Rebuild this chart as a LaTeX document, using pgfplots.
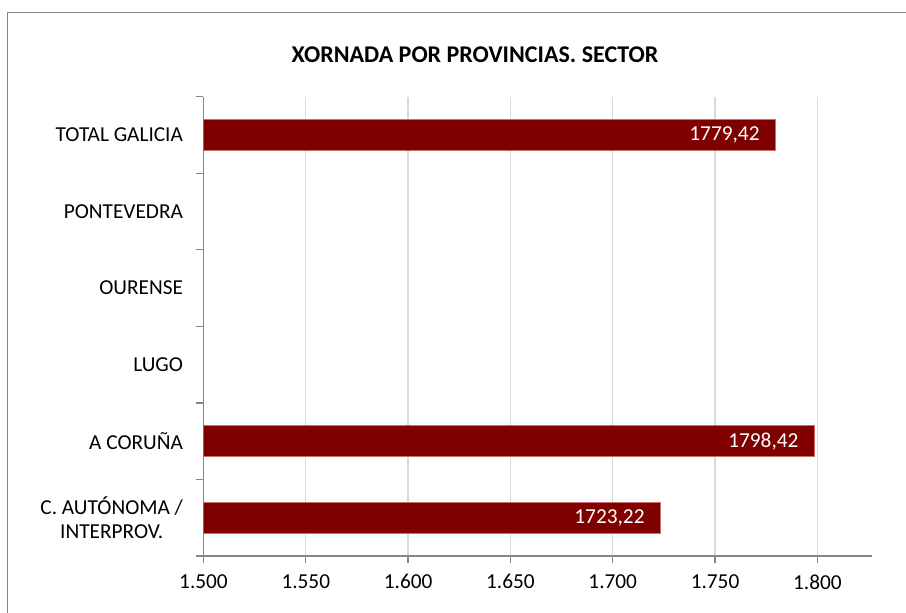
\documentclass[border=0pt]{standalone}
\usepackage{pgfplots}
\pgfplotsset{compat=1.18}
\usepackage{fontspec}
\setmainfont{Carlito}
\definecolor{barred}{RGB}{128,0,0}
\definecolor{baredge}{RGB}{205,110,110}
\definecolor{axgray}{RGB}{134,134,134}
\definecolor{gridgray}{RGB}{217,217,217}
\begin{document}
\begin{tikzpicture}[x=1pt,y=1pt]
\path[use as bounding box] (0,0) rectangle (906,613);
\draw[axgray, line width=1.5pt] (7.5,0) -- (7.5,600.3) -- (906,600.3);
\node[font=\fontsize{24}{28}\selectfont\bfseries] at (475,558) {XORNADA POR PROVINCIAS. SECTOR};
\begin{axis}[
  at={(203.5pt,57pt)}, anchor=south west,
  scale only axis, width=668.5pt, height=459.3pt,
  xmin=1500, xmax=1826.7,
  ymin=-0.5, ymax=5.5,
  axis x line*=bottom, axis y line*=left,
  axis line style={axgray, line width=1.3pt, -},
  xtick={1500,1550,1600,1650,1700,1750,1800},
  xticklabels={1.500,1.550,1.600,1.650,1.700,1.750,1.800},
  xmajorgrids, major grid style={gridgray, line width=1.3pt},
  ytick={-0.5,0.5,1.5,2.5,3.5,4.5,5.5},
  yticklabels={},
  extra y ticks={0,1,2,3,4,5},
  extra y tick labels={{C. AUTÓNOMA /\\INTERPROV.},A CORUÑA,LUGO,OURENSE,PONTEVEDRA,TOTAL GALICIA},
  extra y tick style={major tick length=0pt, tick style={draw=none}},
  tick align=outside,
  major tick length=7pt,
  every major tick/.append style={axgray, line width=1.3pt},
  ticklabel style={font=\fontsize{21.3}{23.3}\selectfont, text=black},
  yticklabel style={align=center, xshift=-17pt},
  xticklabel style={yshift=-8pt},
  /pgf/number format/assume math mode=true,
  clip=true,
]
\addplot[xbar, bar width=31pt, fill=barred, draw=baredge, line width=0.8pt,
  point meta=explicit symbolic,
  nodes near coords,
  nodes near coords style={anchor=east, text=white, font=\fontsize{21.3}{25}\selectfont, xshift=-12pt},
] table[x=v, y=c, meta=l] {
c v l
0 1723.22 1723,22
1 1798.42 1798,42
5 1779.42 1779,42
};
\end{axis}
\end{tikzpicture}
\end{document}
